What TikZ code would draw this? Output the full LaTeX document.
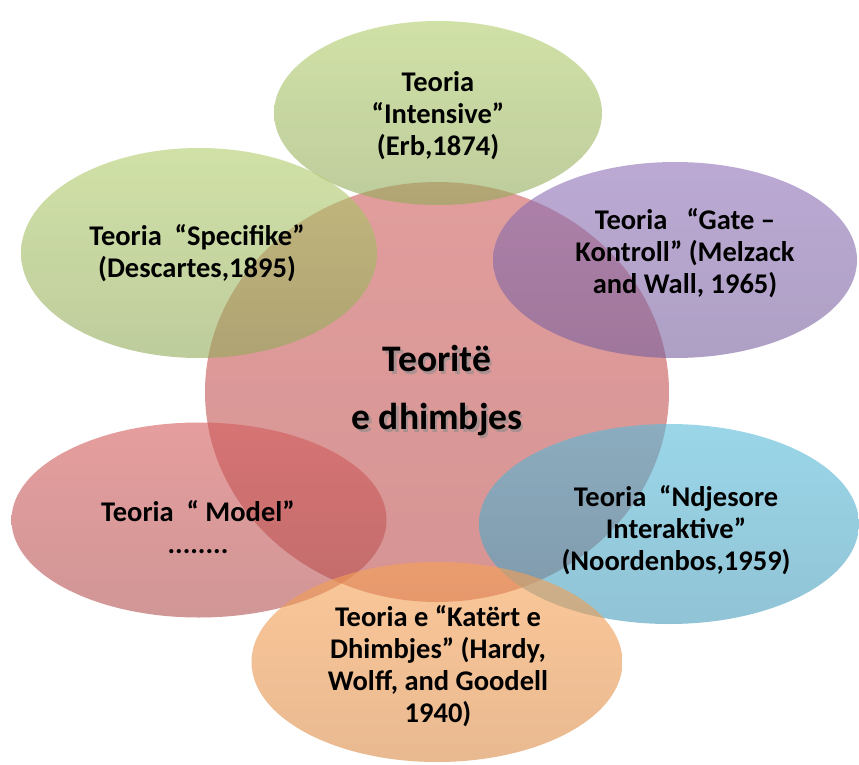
\documentclass[tikz,border=0pt]{standalone}
\usepackage{fontspec}
\setmainfont{Carlito}
\usetikzlibrary{shapes.geometric}

% fill colours: light (top) and deep (bottom) tone of each disc
\definecolor{grnT}{RGB}{177,205,107}
\definecolor{grnB}{RGB}{146,170,90}
\definecolor{hubT}{RGB}{204,92,90}
\definecolor{hubB}{RGB}{186,76,76}
\definecolor{purT}{RGB}{142,112,182}
\definecolor{purB}{RGB}{120,96,158}
\definecolor{redT}{RGB}{212,92,92}
\definecolor{redB}{RGB}{178,80,80}
\definecolor{aquT}{RGB}{87,187,217}
\definecolor{aquB}{RGB}{70,155,185}
\definecolor{orgT}{RGB}{248,162,85}
\definecolor{orgB}{RGB}{218,138,70}

\begin{document}
\begin{tikzpicture}[x=1pt,y=-1pt,
  blob/.style={ellipse, inner sep=0pt, draw=none, fill opacity=0.6},
  txt/.style={font=\fontsize{28.5}{32}\selectfont\bfseries, align=center,
              inner sep=0pt, text=black},
  hubtxt/.style={font=\fontsize{37.5}{44}\selectfont\bfseries, align=center,
              inner sep=0pt}
]
\useasboundingbox (0,0) rectangle (859,765);

% overlapping discs
\node[blob, minimum width=464pt, minimum height=420pt,
      top color=hubT, bottom color=hubB] (hub) at (437,392) {};
\node[blob, minimum width=328pt, minimum height=184pt,
      top color=grnT, bottom color=grnB] (erb) at (438,113) {};
\node[blob, minimum width=356pt, minimum height=210pt,
      top color=grnT, bottom color=grnB] (desc) at (199,253) {};
\node[blob, minimum width=364pt, minimum height=196pt,
      top color=purT, bottom color=purB] (gate) at (675,260) {};
\node[blob, minimum width=375pt, minimum height=195pt,
      top color=redT, bottom color=redB] (model) at (199,520) {};
\node[blob, minimum width=380pt, minimum height=200pt,
      top color=aquT, bottom color=aquB] (noor) at (669,524) {};
\node[blob, minimum width=371pt, minimum height=200pt,
      top color=orgT, bottom color=orgB] (hardy) at (437,662) {};

% centre title with soft shadow
\node[hubtxt, text=black!45, text opacity=0.6] (hubshadow) at (439.5,393.5)
  {Teoritë\\[14pt]e dhimbjes};
\node[hubtxt, text=black] (hubtitle) at (437,391)
  {Teoritë\\[14pt]e dhimbjes};

% labels of the surrounding discs
\node[txt] (erbtxt) at (438,116) {Teoria\\“Intensive”\\(Erb,1874)};
\node[txt] (desctxt) at (197,253) {Teoria\ \ “Specifike”\\(Descartes,1895)};
\node[txt] (gatetxt) at (685,253) {Teoria\ \ \ “Gate –\\Kontroll” (Melzack\\and Wall, 1965)};
\node[txt] (modeltxt) at (198,527) {Teoria\ \ “ Model”\\........};
\node[txt] (noortxt) at (676,530) {Teoria\ \ “Ndjesore\\Interaktive”\\(Noordenbos,1959)};
\node[txt] (hardytxt) at (438,666) {Teoria e “Katërt e\\Dhimbjes” (Hardy,\\Wolff, and Goodell\\1940)};
\end{tikzpicture}
\end{document}
